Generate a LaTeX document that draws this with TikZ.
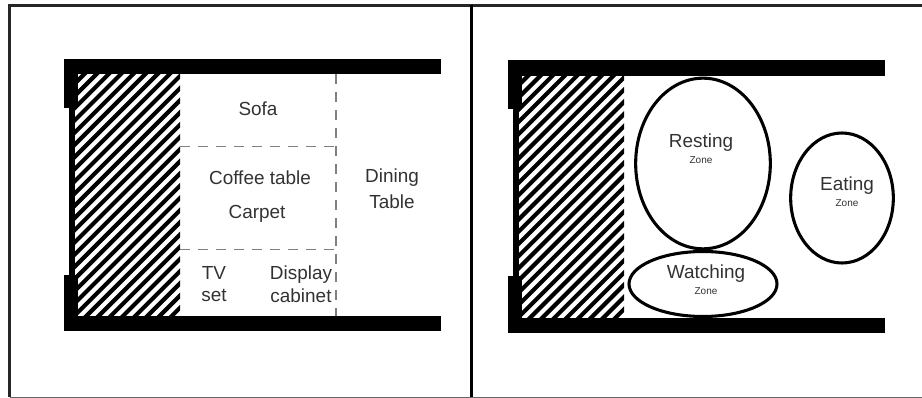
\documentclass[tikz,border=0pt]{standalone}
\usepackage{fontspec}
\setmainfont{Liberation Sans}
\definecolor{LabelGrey}{RGB}{50,50,50}
\usetikzlibrary{positioning,shapes.geometric}

\begin{document}
\begin{tikzpicture}[x=0.75pt, y=-0.75pt, every node/.style={align=center, font=\fontsize{14.2}{17}\selectfont, text=LabelGrey, inner sep=0pt},
  wall/.style={fill=black, draw=none},
  hatchline/.style={line width=3.1pt},
  zonebox/.style={draw=black, line width=2.3pt, ellipse},
  zonetag/.style={font=\fontsize{7.5}{8}\selectfont},
  splitline/.style={draw=black!50, line width=1pt, dash pattern=on 7.5pt off 6pt}]
\useasboundingbox (0,0) rectangle (922,398);
% frame
\draw[line width=2.2pt, black!85] (9.5,397) -- (9.5,5.5) -- (922,5.5);
\draw[line width=2.4pt] (471.5,5.5) -- (471.5,398);
\draw[line width=0.8pt, black!60] (9.5,397.5) -- (922,397.5);
% both rooms
\foreach \ox/\oy in {0/0, 444/1.5}{
  \begin{scope}[shift={(\ox,\oy)}]
  \begin{scope}
    \clip (75,74) rectangle (180,317);
    \foreach \k in {0,...,29}
      \draw[hatchline] (60,{74+12.2*\k}) -- ++(130,-130);
  \end{scope}
  \fill[wall] (64,59) rectangle (441,74.5);
  \fill[wall] (64,316.5) rectangle (441,331.5);
  \fill[wall] (64,59) rectangle (78,108);
  \fill[wall] (64,275) rectangle (78,331);
  \fill[wall] (69,108) rectangle (74.5,275);
  \end{scope}
}
% left room
\coordinate (topA) at (336,74.5);
\coordinate (botA) at (336,316.5);
\coordinate (leftA) at (180,146.5);
\coordinate (rightA) at (336,146.5);
\coordinate (leftB) at (180,249.5);
\coordinate (rightB) at (336,249.5);
\draw[splitline] (topA) -- (botA);
\draw[splitline] (leftA) -- (rightA);
\draw[splitline] (leftB) -- (rightB);
\node (sofa) at (258,109) {Sofa};
\node (coffee) at (260,178) {Coffee table};
\node (carpet) at (257,214) {Carpet};
\node (tv) at (214,284) {TV\\set};
\node (cabinet) at (301,284) {Display\\cabinet};
\node (dining) at (392,189) {Dining\\[2.5pt]Table};
% right room
\node[zonebox, minimum width=101pt, minimum height=128pt] (rest) at (703,163.5) {};
\node[zonebox, minimum width=77pt, minimum height=97.5pt] (eat) at (842,198) {};
\node[zonebox, minimum width=111pt, minimum height=48.75pt] (watch) at (703,284) {};
\node (resting) at (701,143) {Resting};
\node[zonetag, below=3pt of resting] (restzone) {Zone};
\node (eating) at (847,186) {Eating};
\node[zonetag, below=3pt of eating] (eatzone) {Zone};
\node (watching) at (706,274) {Watching};
\node[zonetag, below=3pt of watching] (watchzone) {Zone};
\end{tikzpicture}
\end{document}
